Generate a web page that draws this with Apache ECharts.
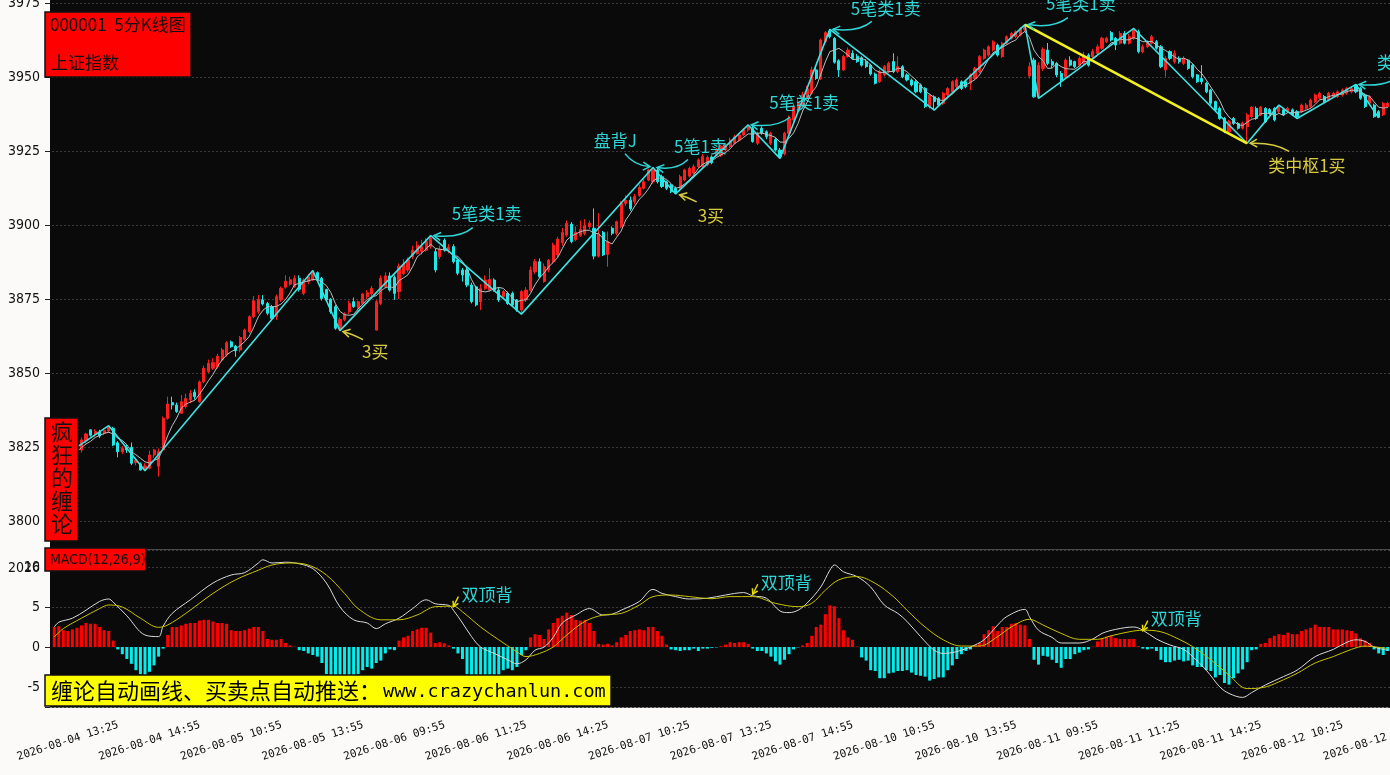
<!DOCTYPE html>
<html>
<head>
<meta charset="utf-8">
<script src="https://cdn.jsdelivr.net/npm/echarts@6.0.0/dist/echarts.min.js"></script>
<style>
html,body{margin:0;padding:0;background:#fcf9f9;overflow:hidden;}
#c{width:1390px;height:775px;}
</style>
</head>
<body>
<div id="c"></div>
<script>
// ---------------- DATA ----------------
const tradeDays = ['2026-08-04','2026-08-05','2026-08-06','2026-08-07','2026-08-10','2026-08-11','2026-08-12'];
const sessionTimes = ['09:35','09:40','09:45','09:50','09:55','10:00','10:05','10:10','10:15','10:20','10:25','10:30',
  '10:35','10:40','10:45','10:50','10:55','11:00','11:05','11:10','11:15','11:20','11:25','11:30',
  '13:05','13:10','13:15','13:20','13:25','13:30','13:35','13:40','13:45','13:50','13:55','14:00',
  '14:05','14:10','14:15','14:20','14:25','14:30','14:35','14:40','14:45','14:50','14:55','15:00'];
const firstSlot = 25;   // 2026-08-04 13:10
const barCount = 295;   // last bar 2026-08-12 13:40

// [open, close, low, high]
const kline = [
[3820.0,3821.0,3819.5,3822.0],[3821.0,3821.2,3820.8,3822.6],[3821.2,3823.0,3820.9,3823.6],[3823.0,3824.6,3822.5,3825.3],[3824.6,3823.8,3823.2,3825.6],
[3823.8,3825.0,3823.3,3826.0],[3824.0,3827.4,3823.1,3828.2],[3827.1,3829.4,3826.2,3829.8],[3830.8,3829.0,3828.5,3831.0],[3829.2,3830.2,3828.5,3831.0],
[3830.0,3828.7,3828.0,3830.8],[3829.6,3830.6,3829.0,3831.3],[3830.4,3831.6,3829.8,3832.2],[3831.3,3825.7,3825.3,3831.8],[3826.4,3823.4,3821.5,3827.0],
[3823.4,3824.5,3822.6,3825.3],[3824.8,3824.0,3823.0,3825.8],[3824.9,3819.5,3818.9,3826.5],[3819.7,3820.6,3818.8,3821.3],[3819.2,3817.2,3817.1,3819.8],
[3817.5,3818.6,3817.0,3819.5],[3817.8,3822.3,3817.4,3823.8],[3822.3,3824.0,3821.3,3824.3],[3818.5,3823.5,3815.0,3824.5],[3824.0,3834.7,3823.5,3835.3],
[3834.7,3839.5,3834.2,3842.0],[3840.0,3839.2,3837.7,3842.0],[3839.2,3837.0,3836.5,3840.0],[3836.4,3840.3,3836.2,3842.6],[3838.6,3841.4,3838.0,3843.0],
[3840.9,3843.1,3839.8,3844.2],[3843.5,3842.0,3841.0,3844.5],[3840.3,3847.0,3840.0,3847.5],[3847.0,3851.6,3846.5,3852.5],[3850.5,3853.3,3850.0,3854.5],
[3851.6,3853.5,3851.0,3855.0],[3852.1,3855.7,3851.5,3856.5],[3854.4,3857.8,3854.0,3858.5],[3856.1,3860.2,3855.5,3860.8],[3860.5,3858.9,3858.5,3861.0],
[3859.1,3857.5,3855.5,3859.5],[3857.8,3862.0,3857.0,3862.5],[3861.4,3864.5,3861.0,3865.0],[3864.0,3869.0,3863.5,3869.5],[3869.0,3874.4,3868.5,3876.0],
[3870.7,3874.9,3870.0,3876.3],[3874.7,3873.3,3872.8,3876.3],[3873.5,3870.2,3869.5,3874.0],[3872.4,3868.5,3868.0,3873.0],[3869.0,3875.8,3867.9,3876.5],
[3874.7,3878.6,3874.0,3879.2],[3879.0,3881.0,3878.5,3883.0],[3880.0,3881.5,3879.5,3882.5],[3879.2,3882.0,3878.8,3883.0],[3882.0,3878.3,3877.5,3883.0],
[3876.9,3881.4,3876.3,3882.0],[3880.9,3882.5,3880.0,3883.5],[3881.6,3883.7,3881.0,3884.6],[3883.9,3881.4,3881.0,3884.3],[3882.0,3875.2,3874.5,3882.5],
[3878.2,3874.7,3874.0,3878.5],[3874.9,3870.7,3870.0,3875.3],[3872.4,3865.1,3864.6,3873.0],[3864.8,3868.1,3864.3,3868.8],[3868.1,3869.9,3867.5,3870.5],
[3870.7,3873.5,3870.0,3874.5],[3874.1,3872.4,3872.0,3875.5],[3871.8,3874.1,3871.0,3874.5],[3873.5,3876.7,3873.0,3877.0],[3875.8,3877.1,3875.0,3878.0],
[3876.7,3878.6,3876.0,3879.4],[3864.5,3874.1,3864.3,3874.6],[3873.5,3882.0,3873.0,3883.0],[3879.2,3882.8,3878.5,3884.0],[3882.8,3878.0,3877.5,3884.0],
[3882.3,3876.9,3874.7,3883.0],[3877.5,3886.1,3875.0,3887.0],[3883.6,3886.8,3883.0,3888.5],[3884.8,3888.2,3884.0,3889.0],[3889.3,3891.5,3888.5,3893.0],
[3890.4,3893.2,3890.0,3894.5],[3891.0,3892.7,3890.0,3895.0],[3891.5,3894.4,3891.0,3895.5],[3892.7,3895.5,3892.0,3896.4],[3891.0,3884.8,3884.0,3892.0],
[3889.3,3891.8,3888.5,3893.0],[3894.9,3891.6,3891.0,3895.5],[3891.6,3892.5,3890.5,3893.5],[3892.7,3887.6,3887.0,3893.5],[3888.2,3883.7,3883.0,3889.0],
[3884.8,3883.1,3880.9,3885.5],[3884.8,3879.7,3879.0,3886.0],[3879.7,3874.1,3873.5,3880.5],[3879.1,3873.0,3872.5,3879.5],[3874.1,3878.6,3871.3,3880.0],
[3878.6,3881.4,3878.0,3883.0],[3878.0,3881.6,3877.5,3885.4],[3881.4,3878.0,3877.5,3882.0],[3878.0,3874.7,3874.0,3879.0],[3875.8,3877.5,3875.0,3878.0],
[3877.0,3873.5,3873.0,3877.5],[3876.9,3873.0,3872.5,3877.5],[3874.7,3871.3,3870.7,3875.0],[3871.3,3877.5,3869.9,3878.0],[3874.7,3878.0,3874.0,3879.0],
[3878.0,3884.8,3877.5,3886.0],[3884.2,3887.6,3883.5,3888.5],[3887.6,3882.5,3882.0,3888.7],[3880.9,3885.9,3880.5,3887.0],[3884.8,3888.0,3884.0,3888.5],
[3887.6,3893.2,3887.0,3894.0],[3889.9,3895.2,3889.0,3896.0],[3894.0,3897.5,3893.0,3899.0],[3896.6,3900.6,3896.0,3901.5],[3900.3,3894.4,3893.8,3901.0],
[3895.0,3897.5,3894.5,3899.5],[3896.5,3898.5,3896.0,3901.5],[3897.2,3899.8,3896.5,3902.0],[3899.4,3900.6,3898.5,3901.5],[3898.9,3889.5,3888.4,3905.6],
[3889.5,3897.0,3889.0,3904.0],[3897.5,3889.9,3889.5,3898.0],[3890.0,3894.4,3885.9,3897.8],[3898.9,3897.2,3896.5,3899.5],[3897.2,3901.1,3896.5,3901.5],
[3899.4,3907.3,3899.0,3908.0],[3907.3,3908.4,3906.5,3910.0],[3908.4,3905.5,3904.8,3909.6],[3907.9,3909.6,3907.0,3910.5],[3910.0,3912.7,3909.5,3913.5],
[3912.4,3914.6,3912.0,3915.5],[3915.2,3918.6,3914.8,3919.0],[3914.6,3918.6,3914.0,3919.4],[3918.6,3914.6,3914.0,3919.2],[3916.3,3913.0,3912.5,3917.0],
[3914.6,3912.4,3911.8,3915.0],[3913.5,3911.2,3910.8,3914.0],[3912.4,3911.0,3910.5,3913.0],[3912.4,3916.3,3912.0,3917.0],[3915.2,3918.6,3914.8,3919.0],
[3916.5,3919.1,3916.0,3919.7],[3917.5,3919.7,3917.0,3920.5],[3919.7,3922.0,3919.2,3922.5],[3919.7,3923.1,3919.3,3924.0],[3920.3,3922.8,3919.8,3923.5],
[3923.0,3921.0,3920.5,3923.5],[3923.6,3925.3,3923.2,3926.0],[3923.6,3926.5,3923.0,3927.0],[3925.3,3927.0,3925.0,3927.7],[3926.5,3928.7,3926.0,3929.5],
[3927.6,3929.8,3927.2,3930.5],[3928.7,3930.4,3928.2,3931.0],[3930.4,3932.1,3930.0,3932.8],[3932.1,3933.2,3931.5,3933.8],[3932.7,3928.2,3927.8,3933.5],
[3927.6,3931.0,3927.0,3931.5],[3932.7,3931.0,3930.5,3933.3],[3931.5,3929.8,3929.0,3932.0],[3927.6,3931.0,3927.0,3931.5],[3928.9,3925.3,3924.8,3929.5],
[3925.3,3923.1,3922.5,3926.0],[3924.0,3931.0,3923.5,3931.5],[3931.0,3936.0,3930.5,3937.0],[3935.5,3940.0,3935.0,3941.0],[3938.5,3941.5,3938.0,3942.5],
[3940.0,3944.0,3939.5,3945.0],[3943.0,3946.0,3942.5,3947.0],[3944.5,3952.4,3944.0,3953.5],[3952.4,3949.5,3949.0,3953.5],[3949.5,3962.5,3949.0,3963.0],
[3962.0,3965.0,3961.5,3965.5],[3965.5,3963.6,3963.0,3966.1],[3963.0,3955.0,3954.5,3963.5],[3955.5,3952.4,3950.0,3956.0],[3952.4,3956.9,3952.0,3957.5],
[3956.9,3959.1,3956.5,3960.0],[3958.0,3956.3,3955.8,3959.0],[3957.0,3955.2,3954.8,3957.8],[3956.5,3954.0,3953.5,3957.0],[3955.2,3953.5,3953.0,3956.0],
[3954.0,3951.0,3950.5,3954.5],[3951.0,3947.9,3947.5,3951.5],[3948.4,3951.8,3948.0,3952.5],[3950.7,3953.5,3950.2,3954.0],[3951.8,3954.6,3951.3,3955.2],
[3955.2,3951.8,3951.3,3958.0],[3951.8,3953.5,3951.3,3957.0],[3953.5,3950.1,3949.6,3954.0],[3950.7,3949.0,3948.5,3951.2],[3949.0,3947.3,3946.8,3949.5],
[3948.4,3945.0,3944.5,3948.9],[3947.3,3945.0,3944.5,3947.8],[3946.1,3940.0,3939.5,3946.6],[3940.0,3943.9,3939.3,3944.4],[3943.3,3941.7,3938.8,3943.8],
[3942.7,3940.5,3940.0,3943.2],[3941.1,3944.5,3940.6,3945.0],[3943.9,3946.1,3943.4,3946.6],[3945.0,3948.4,3944.5,3948.9],[3946.7,3949.0,3946.2,3949.6],
[3948.4,3946.1,3945.6,3948.9],[3948.4,3946.7,3946.2,3948.9],[3947.9,3950.7,3945.6,3951.2],[3949.5,3952.9,3949.0,3953.4],[3951.8,3956.9,3951.3,3957.4],
[3956.3,3959.1,3955.8,3959.6],[3957.4,3960.2,3956.9,3960.7],[3959.1,3961.9,3958.6,3962.4],[3960.8,3957.4,3956.9,3961.3],[3956.9,3961.4,3956.4,3961.9],
[3961.4,3963.6,3960.9,3964.1],[3963.1,3964.7,3962.6,3965.2],[3963.6,3965.3,3963.1,3965.8],[3964.2,3966.4,3963.7,3966.9],[3966.0,3967.2,3965.5,3967.7],
[3950.3,3953.5,3949.5,3955.0],[3955.7,3943.3,3943.0,3956.5],[3943.3,3954.0,3942.8,3955.0],[3952.9,3959.3,3952.0,3960.0],[3959.1,3954.6,3954.0,3961.5],
[3955.2,3954.0,3953.0,3956.0],[3954.6,3950.7,3950.0,3955.0],[3951.2,3949.0,3946.7,3952.0],[3950.1,3955.7,3949.5,3956.3],[3955.7,3954.0,3953.5,3957.0],
[3955.2,3953.5,3953.0,3955.5],[3954.0,3956.3,3953.5,3957.0],[3954.6,3957.4,3954.0,3958.5],[3957.4,3954.0,3953.5,3958.0],[3956.9,3958.6,3956.5,3959.5],
[3958.0,3960.2,3957.5,3961.0],[3959.7,3963.1,3959.2,3963.6],[3962.0,3963.1,3961.5,3963.6],[3965.0,3962.5,3962.0,3965.5],[3963.1,3960.8,3959.1,3963.5],
[3961.4,3964.7,3961.0,3965.5],[3964.7,3961.4,3961.0,3965.5],[3961.4,3963.6,3961.0,3964.5],[3963.1,3965.9,3962.5,3966.4],[3965.3,3958.6,3958.0,3966.0],
[3958.6,3960.2,3958.0,3961.0],[3960.2,3961.9,3959.7,3962.5],[3961.4,3963.6,3961.0,3964.2],[3961.9,3959.7,3959.2,3962.5],[3960.2,3953.5,3953.0,3960.8],
[3952.4,3956.3,3950.1,3957.0],[3958.6,3956.3,3955.7,3959.0],[3955.2,3958.0,3954.5,3959.0],[3956.3,3955.2,3954.5,3957.0],[3954.6,3956.3,3954.0,3957.0],
[3955.7,3952.9,3952.4,3956.0],[3954.0,3950.1,3949.5,3954.5],[3950.7,3948.4,3948.0,3951.0],[3949.5,3948.4,3947.5,3954.0],[3947.9,3945.0,3944.5,3948.4],
[3945.6,3941.1,3940.5,3946.0],[3941.7,3938.8,3938.3,3942.0],[3939.4,3936.0,3935.5,3940.0],[3936.0,3931.5,3931.0,3936.5],[3931.5,3934.9,3930.5,3935.5],
[3936.0,3934.3,3933.8,3936.5],[3934.3,3932.7,3932.2,3934.8],[3932.7,3934.5,3932.2,3935.0],[3933.2,3937.2,3927.6,3937.8],[3936.6,3939.8,3936.0,3940.2],
[3939.4,3936.0,3935.5,3940.0],[3937.2,3939.8,3936.8,3940.2],[3939.4,3934.9,3934.5,3939.8],[3939.0,3937.7,3937.2,3939.5],[3939.4,3935.5,3935.0,3939.8],
[3938.3,3940.0,3937.8,3940.5],[3938.9,3937.2,3936.8,3939.4],[3938.3,3939.4,3937.8,3939.9],[3938.9,3937.2,3936.8,3939.4],[3938.3,3936.6,3936.0,3938.8],
[3938.3,3940.5,3937.8,3941.0],[3939.4,3940.5,3939.0,3941.2],[3940.0,3942.2,3939.5,3942.7],[3941.7,3943.9,3941.2,3944.4],[3942.8,3944.5,3942.3,3945.0],
[3943.4,3941.7,3941.2,3943.9],[3942.2,3944.5,3941.7,3945.0],[3943.4,3944.5,3942.9,3945.0],[3943.4,3945.0,3942.9,3945.5],[3943.9,3945.6,3943.4,3946.1],
[3944.5,3946.1,3944.0,3946.6],[3945.0,3946.1,3944.5,3946.8],[3947.3,3945.0,3944.5,3947.5],[3946.1,3942.8,3942.3,3946.6],[3943.9,3940.0,3939.5,3944.4],
[3941.1,3943.4,3940.6,3943.9],[3940.5,3936.6,3936.2,3941.0],[3938.3,3936.4,3936.2,3938.8],[3937.2,3941.1,3936.8,3941.6],[3940.0,3941.1,3939.5,3941.6]
];

const ma5 = [null,null,null,null,
3822.7,3823.5,3824.8,3826.0,3826.9,3828.2,3828.9,3829.6,3830.0,3829.4,
3828.0,3827.2,3825.8,3823.4,3822.4,3821.2,3820.0,3819.6,3820.5,3821.1,
3824.6,3828.8,3832.2,3834.8,3838.1,3839.5,3840.2,3840.8,3842.8,3845.0,
3847.4,3849.5,3852.2,3854.4,3856.1,3857.2,3858.0,3859.3,3860.6,3862.4,
3865.5,3869.0,3871.2,3872.4,3872.3,3872.5,3873.3,3874.8,3877.1,3879.8,
3880.3,3880.8,3881.1,3881.6,3881.5,3880.8,3879.5,3877.1,3873.4,3870.8,
3869.7,3869.5,3869.8,3871.6,3873.3,3874.8,3875.8,3876.1,3877.7,3878.9,
3879.1,3878.8,3881.2,3882.1,3883.2,3885.9,3889.2,3890.5,3892.0,3893.5,
3892.1,3891.8,3891.6,3891.2,3889.7,3889.4,3887.7,3885.3,3881.6,3878.7,
3877.7,3877.4,3877.7,3878.5,3878.9,3878.6,3877.1,3875.3,3874.0,3874.6,
3874.7,3876.9,3879.8,3882.1,3883.8,3885.8,3887.4,3889.0,3892.0,3894.9,
3896.2,3897.0,3897.7,3898.2,3898.2,3897.2,3897.1,3895.4,3894.3,3893.6,
3895.9,3898.0,3901.7,3903.9,3906.4,3908.7,3910.2,3912.2,3914.8,3915.8,
3915.9,3915.4,3914.0,3912.4,3912.8,3913.9,3915.2,3916.9,3919.1,3920.5,
3921.3,3921.7,3922.8,3923.7,3924.5,3925.7,3927.5,3928.5,3929.6,3930.8,
3930.7,3931.0,3931.1,3930.6,3930.2,3929.6,3928.0,3928.0,3929.3,3931.1,
3934.3,3938.5,3941.5,3944.8,3946.7,3950.9,3955.1,3958.6,3959.1,3959.7,
3958.6,3957.4,3955.9,3956.0,3956.3,3955.6,3954.0,3952.3,3951.6,3951.5,
3951.8,3951.9,3953.0,3952.7,3951.8,3950.3,3949.0,3947.3,3945.3,3944.2,
3943.1,3942.2,3942.1,3943.3,3944.2,3945.7,3946.8,3947.3,3948.2,3949.1,
3950.7,3953.3,3956.0,3958.2,3959.1,3960.0,3960.9,3961.8,3962.5,3964.3,
3965.4,3963.4,3959.1,3956.9,3955.5,3952.9,3953.0,3954.5,3953.5,3952.8,
3952.7,3952.6,3953.7,3955.4,3955.0,3956.0,3957.3,3958.7,3959.8,3961.5,
3961.9,3962.8,3962.5,3962.6,3963.3,3962.8,3961.9,3962.0,3962.0,3960.8,
3959.8,3959.0,3957.9,3956.8,3955.9,3956.4,3955.7,3954.5,3952.6,3951.2,
3949.0,3946.6,3944.3,3941.9,3938.5,3936.5,3935.1,3933.9,3933.6,3934.7,
3935.7,3936.1,3937.6,3937.7,3937.8,3936.9,3937.7,3937.1,3938.0,3937.9,
3938.1,3938.2,3938.8,3939.4,3940.7,3942.3,3942.6,3943.4,3943.8,3944.0,
3944.3,3945.1,3945.5,3945.6,3945.1,3944.0,3943.5,3941.6,3939.8,3939.5,
3939.7];

// stroke (bi) vertices: [bar index, price]
const biPoints = [[1,3820.8],[12,3832.2],[20,3817.0],[57,3884.6],[63,3864.3],[83,3896.4],[103,3869.9],[132,3919.4],[137,3910.5],
  [153,3933.8],[160,3922.5],[171,3966.1],[194,3938.8],[214,3967.7],[217,3942.8],[238,3966.4],[263,3927.6],[270,3940.5],[274,3936.0],
  [287,3947.5],[292,3936.2]];
// segment (yellow)
const segPoints = [[214,3967.7],[263,3927.6]];

// MACD histogram per bar
const macdHist = [
2.5,2.6,2.1,2.0,2.2,2.4,2.7,3.0,2.9,2.9,2.5,2.1,2.0,0.8,
-0.3,-0.9,-1.5,-2.1,-2.9,-3.4,-3.5,-3.1,-2.3,-1.2,-0.2,
1.5,2.5,2.5,2.7,2.9,3.0,3.0,3.3,3.4,3.4,3.2,3.0,3.0,2.9,2.1,2.0,2.0,2.1,2.3,2.5,2.5,2.0,1.0,0.9,0.9,1.0,0.5,0.2,0.05,
-0.4,-0.5,-0.8,-1.0,-1.2,-2.0,-3.4,-3.6,-3.8,-3.9,-3.9,-3.8,-3.6,-3.4,-2.9,-2.5,-2.7,-2.0,-1.7,-0.8,-0.3,-0.4,
0.8,1.2,1.4,2.0,2.2,2.4,2.4,1.8,0.5,0.6,0.46,0.2,
-0.2,-0.8,-1.5,-3.4,-3.6,-3.8,-3.9,-3.9,-3.8,-3.7,-3.5,-2.9,-2.7,-2.9,-2.5,-1.0,-0.4,
1.2,1.6,1.5,1.0,2.2,3.0,3.6,3.9,4.3,4.0,3.4,3.3,3.4,3.0,2.0,0.4,0.3,0.4,0.2,0.6,1.2,1.5,2.0,2.1,2.2,2.1,2.5,2.5,2.0,1.4,0.3,
-0.3,-0.4,-0.5,-0.4,-0.4,-0.2,-0.5,-0.2,-0.2,-0.1,-0.05,
0.1,0.3,0.6,0.5,0.6,0.6,0.4,
-0.2,-0.5,-0.5,-0.8,-1.2,-1.8,-2.2,-1.6,-0.9,-0.3,-0.05,
0.2,0.5,1.4,2.5,2.8,4.1,5.2,5.1,3.6,2.1,1.2,0.9,0.05,
-1.3,-1.7,-2.9,-3.0,-3.9,-3.9,-3.3,-3.2,-3.0,-3.0,-2.9,-3.2,-3.5,-3.6,-3.7,-4.2,-4.0,-3.8,-3.8,-2.9,-2.3,-1.5,-0.9,-0.5,-0.3,
0.2,0.5,1.6,2.1,2.6,2.0,2.5,2.5,2.9,3.0,2.8,2.7,1.0,
-1.6,-2.2,-1.1,-1.2,-1.6,-2.0,-2.6,-1.5,-1.5,-0.9,-0.7,-0.4,-0.3,
0.05,0.7,1.1,1.3,1.4,1.1,1.0,1.0,1.0,1.0,0.1,
-0.2,-0.3,-0.2,-0.5,-1.6,-1.9,-1.9,-1.7,-1.6,-1.8,-1.7,-2.3,-2.5,-2.5,-2.9,-3.0,-3.8,-3.5,-4.5,-4.7,-3.9,-3.3,-2.8,-1.9,-0.4,-0.3,
0.4,0.5,1.1,1.4,1.6,1.5,1.8,1.6,1.6,2.0,2.2,2.4,2.8,2.5,2.5,2.5,2.2,2.2,2.2,2.1,2.0,1.7,1.1,0.8,0.5,
-0.3,-0.8,-1.0,-0.5];

// DIF / DEA read at points along the curves: [bar index, value]
const difPoints = [[0,2.5],[1,3.1],[4,3.6],[7,4.6],[10,5.7],[12,6.0],[13,5.6],[16,3.9],[20,1.5],[23,1.3],[24,2.6],[26,4.2],[30,5.9],
 [35,8.0],[39,9.0],[42,9.3],[45,10.5],[46,10.9],[48,10.5],[51,10.6],[54,10.4],[57,9.8],[60,8.0],[63,5.0],[66,3.4],[69,3.0],[71,2.3],
 [73,2.9],[76,3.6],[79,4.8],[82,5.9],[84,5.4],[87,5.2],[88,4.6],[90,3.0],[92,1.3],[94,0.0],[97,-0.8],[100,-1.6],[102,-2.1],[104,-1.6],
 [106,-0.4],[108,0.0],[110,1.2],[112,3.0],[115,4.0],[118,4.8],[121,4.0],[123,4.1],[125,4.6],[129,5.7],[132,7.2],[134,6.7],[137,6.3],
 [140,6.0],[144,6.1],[148,6.5],[152,6.8],[154,6.4],[157,6.1],[160,4.5],[162,4.3],[164,4.6],[166,5.5],[169,7.5],[171,9.6],[172,10.25],
 [174,9.4],[177,8.8],[180,7.5],[183,5.25],[186,4.2],[188,3.2],[191,1.3],[194,-0.4],[196,-0.8],[198,-0.7],[200,-0.4],[202,0.0],[205,0.9],
 [208,2.75],[210,3.8],[214,4.7],[215,3.8],[217,2.1],[220,1.2],[222,0.5],[226,0.5],[229,1.0],[231,1.7],[234,2.2],[238,2.5],[240,2.1],
 [243,1.0],[246,0.25],[249,-0.3],[251,-1.2],[254,-2.9],[257,-5.0],[259,-5.8],[262,-6.3],[264,-5.7],[267,-4.75],[271,-3.7],[274,-2.9],
 [278,-1.2],[282,-0.3],[285,0.6],[287,0.9],[289,0.7],[291,0.0],[294,-0.4]];
const deaPoints = [[0,1.25],[2,2.3],[6,3.6],[10,4.8],[12,5.25],[15,5.0],[19,3.6],[23,2.46],[25,2.75],[29,4.2],[35,6.7],[40,8.4],
 [45,9.6],[48,10.25],[52,10.5],[56,10.25],[60,9.0],[64,6.7],[67,4.8],[72,3.4],[76,3.4],[80,4.0],[84,5.04],[88,5.1],[90,4.4],[94,2.5],
 [98,0.9],[102,-0.6],[104,-1.2],[107,-0.8],[110,0.0],[113,1.5],[117,3.2],[121,4.0],[125,4.2],[129,5.25],[132,6.3],[136,6.5],[140,6.3],
 [145,6.04],[149,6.3],[154,6.3],[159,5.46],[164,5.04],[167,5.46],[170,7.1],[173,8.4],[177,8.8],[181,7.96],[185,6.3],[188,4.6],[192,2.5],
 [196,0.9],[200,0.12],[204,0.12],[208,1.3],[211,2.5],[215,3.46],[218,2.75],[222,1.7],[226,0.96],[230,0.96],[233,1.4],[237,1.9],
 [240,2.1],[244,1.9],[248,0.96],[251,0.04],[255,-1.6],[259,-3.5],[263,-5.2],[267,-5.0],[271,-4.1],[274,-3.3],[278,-2.0],[282,-1.2],
 [286,-0.3],[289,0.12],[292,-0.04],[294,-0.2]];

// buy/sell signals on the K chart
const signalIdx   = [83, 63, 132, 132, 137, 153, 171, 214, 263, 287];
const signalPrice = [3896.4, 3864.3, 3919.4, 3919.4, 3910.5, 3933.8, 3966.1, 3967.7, 3927.6, 3947.5];
const signalText  = ['5笔类1卖','3买','盘背J','5笔1卖','3买','5笔类1卖','5笔类1卖','5笔类1卖','类中枢1买','类1卖'];
// divergence signals on MACD
const macdSigIdx  = [88, 154, 240];
const macdSigVal  = [5.04, 6.6, 2.04];
const macdSigText = ['双顶背','双顶背','双顶背'];

// tick labels
const priceTicks = [3800,3825,3850,3875,3900,3925,3950,3975];
const macdTicks = [-5,0,5,10];

// ---------------- BUILD ----------------
const allSlots = [];
tradeDays.forEach(d => sessionTimes.forEach(t => allSlots.push(d + ' ' + t)));
const categories = allSlots.slice(firstSlot, firstSlot + barCount);
const labelEvery = (idx) => idx >= 3 && (idx - 3) % 18 === 0;

const RED = '#ff1e1e', CYAN = '#1ee8e8';
const C_TEXT = '#2fd6d6', C_BI = '#3fe2e2', C_YTEXT = '#d6cb3e';
const numFont = "'Liberation Sans Narrow','DejaVu Sans Condensed',sans-serif";

const chart = echarts.init(document.getElementById('c'), null, {renderer: 'canvas'});

const option = {
  animation: false,
  backgroundColor: '#0a0a0a',
  grid: [
    {left: 52, right: 0, top: 3, height: 546, containLabel: false, outerBoundsMode: 'none'},
    {left: 52, right: 0, top: 550, height: 157, containLabel: false, outerBoundsMode: 'none'}
  ],
  xAxis: [
    {type: 'category', gridIndex: 0, data: categories, boundaryGap: true,
     axisLine: {lineStyle: {color: '#4a4a4a'}},
     axisTick: {interval: labelEvery, alignWithLabel: true, length: 4, lineStyle: {color: '#4a4a4a'}},
     axisLabel: {show: false}, splitLine: {show: false}},
    {type: 'category', gridIndex: 1, data: categories, boundaryGap: true,
     axisLine: {lineStyle: {color: '#111'}},
     axisTick: {interval: labelEvery, alignWithLabel: true, length: 5, lineStyle: {color: '#111'}},
     axisLabel: {interval: labelEvery, rotate: 18, align: 'center', verticalAlign: 'middle', margin: 34,
       fontFamily: "'DejaVu Sans Mono',monospace", fontSize: 11, color: '#111', hideOverlap: false},
     splitLine: {show: false}}
  ],
  yAxis: [
    {type: 'value', gridIndex: 0, min: 3790.54, max: 3975, minInterval: 25, maxInterval: 25, offset: 2,
     axisLine: {show: false},
     axisTick: {show: true, length: 5, lineStyle: {color: '#222'}},
     axisLabel: {margin: 10, color: '#111', fontFamily: numFont, fontSize: 14,
       formatter: v => priceTicks.indexOf(Math.round(v * 100) / 100) >= 0 ? String(v) : ''},
     splitLine: {show: true, lineStyle: {color: '#3a3a3a', type: [2, 2]}}},
    {type: 'value', gridIndex: 1, min: -7.5, max: 12.125, minInterval: 5, maxInterval: 5, offset: 2,
     axisLine: {show: false},
     axisTick: {show: true, length: 5, lineStyle: {color: '#222'}},
     axisLabel: {margin: 10, color: '#111', fontFamily: numFont, fontSize: 14,
       formatter: v => macdTicks.indexOf(Math.round(v * 100) / 100) >= 0 ? String(v) : ''},
     splitLine: {show: true, lineStyle: {color: '#3a3a3a', type: [2, 2]}}}
  ],
  series: [
    {type: 'candlestick', xAxisIndex: 0, yAxisIndex: 0, data: kline, barWidth: 2.6,
     itemStyle: {color: RED, color0: CYAN, borderColor: RED, borderColor0: CYAN, borderWidth: 1}, z: 2},
    {type: 'line', xAxisIndex: 0, yAxisIndex: 0, data: ma5, showSymbol: false, symbol: 'none',
     lineStyle: {color: '#bdbdbd', width: 1}, z: 3},
    {type: 'line', xAxisIndex: 0, yAxisIndex: 0, data: biPoints, showSymbol: false, symbol: 'none',
     lineStyle: {color: C_BI, width: 1.6}, z: 5},
    {type: 'line', xAxisIndex: 0, yAxisIndex: 0, data: segPoints, showSymbol: false, symbol: 'none',
     lineStyle: {color: '#f4f020', width: 2.6}, z: 6},
    {type: 'bar', xAxisIndex: 1, yAxisIndex: 1, data: macdHist, barWidth: 3,
     itemStyle: {color: p => p.value >= 0 ? '#ff0000' : '#00eeee'}, z: 2},
    {type: 'line', xAxisIndex: 1, yAxisIndex: 1, data: difPoints, showSymbol: false, symbol: 'none', smooth: 0.35,
     lineStyle: {color: '#d9d9d9', width: 1}, z: 4},
    {type: 'line', xAxisIndex: 1, yAxisIndex: 1, data: deaPoints, showSymbol: false, symbol: 'none', smooth: 0.35,
     lineStyle: {color: '#c8c200', width: 1}, z: 4}
  ]
};
chart.setOption(option);

// ---------------- ANNOTATIONS (positioned through the axes) ----------------
const sigLayout = [
  {tx: 21, ty: -22, ta: 'left',  s: [42, -8], c: [29, 3],  e: [3, 0],  k: 'c'},
  {tx: 22, ty: 21,  ta: 'left',  s: [23, 9],  c: [12, 3],  e: [3, 1],  k: 'y'},
  {tx: -16, ty: -27, ta: 'right', s: [-28, -14], c: [-19, -2], e: [-3, -1], k: 'c'},
  {tx: 21, ty: -21, ta: 'left',  s: [35, -8], c: [24, 3],  e: [4, 0],  k: 'c'},
  {tx: 22, ty: 22,  ta: 'left',  s: [21, 8],  c: [12, 3],  e: [4, 1],  k: 'y'},
  {tx: 21, ty: -22, ta: 'left',  s: [42, -8], c: [29, 3],  e: [3, 0],  k: 'c'},
  {tx: 21, ty: -21, ta: 'left',  s: [42, -8], c: [29, 3],  e: [3, 0],  k: 'c'},
  {tx: 21, ty: -21, ta: 'left',  s: [43, -7], c: [29, 4],  e: [3, 0],  k: 'c'},
  {tx: 21, ty: 22,  ta: 'left',  s: [42, 8],  c: [27, -1], e: [3, 0],  k: 'y'},
  {tx: 21, ty: -22, ta: 'left',  s: [42, -8], c: [29, 3],  e: [3, 0],  k: 'c'}
];
const annFont = '17px "Noto Sans CJK SC"';
const els = [];
function chevron(ex, ey, cx, cy, color, len) {
  const dx = ex - cx, dy = ey - cy, L = Math.hypot(dx, dy) || 1;
  const ux = dx / L, uy = dy / L, a = Math.PI / 6;
  const p1 = [ex - len * (ux * Math.cos(a) - uy * Math.sin(a)), ey - len * (uy * Math.cos(a) + ux * Math.sin(a))];
  const p2 = [ex - len * (ux * Math.cos(-a) - uy * Math.sin(-a)), ey - len * (uy * Math.cos(-a) + ux * Math.sin(-a))];
  return {type: 'polyline', silent: true, z: 60, shape: {points: [p1, [ex, ey], p2]},
          style: {stroke: color, lineWidth: 1.5, fill: null}};
}
signalIdx.forEach((idx, n) => {
  const p = chart.convertToPixel({gridIndex: 0}, [idx, signalPrice[n]]);
  const lay = sigLayout[n];
  const col = lay.k === 'c' ? C_TEXT : C_YTEXT;
  const sx = p[0] + lay.s[0], sy = p[1] + lay.s[1];
  const cx = p[0] + lay.c[0], cy = p[1] + lay.c[1];
  const ex = p[0] + lay.e[0], ey = p[1] + lay.e[1];
  els.push({type: 'bezierCurve', silent: true, z: 60,
    shape: {x1: sx, y1: sy, cpx1: cx, cpy1: cy, x2: ex, y2: ey},
    style: {stroke: col, lineWidth: 1.5, fill: null}});
  els.push(chevron(ex, ey, cx, cy, col, 8));
  els.push({type: 'text', silent: true, z: 60, x: p[0] + lay.tx, y: p[1] + lay.ty,
    style: {text: signalText[n], fill: col, font: annFont, textAlign: lay.ta, textVerticalAlign: 'middle'}});
});
macdSigIdx.forEach((idx, n) => {
  const p = chart.convertToPixel({gridIndex: 1}, [idx, macdSigVal[n]]);
  const sx = p[0] + 5, sy = p[1] - 10;
  els.push({type: 'line', silent: true, z: 60, shape: {x1: sx, y1: sy, x2: p[0], y2: p[1]},
    style: {stroke: '#e6dc00', lineWidth: 1.4}});
  els.push(chevron(p[0], p[1], sx, sy, '#e6dc00', 6));
  els.push({type: 'text', silent: true, z: 60, x: p[0] + 8, y: p[1] - 12,
    style: {text: macdSigText[n], fill: C_TEXT, font: annFont, textAlign: 'left', textVerticalAlign: 'middle'}});
});

// page margins (light) and label boxes
const boxes = [
  {type: 'rect', silent: true, z: -10, shape: {x: 0, y: 0, width: 50, height: 775}, style: {fill: '#fcf9f9'}},
  {type: 'rect', silent: true, z: -10, shape: {x: 0, y: 707.5, width: 1390, height: 70}, style: {fill: '#fcf9f9'}},
  {type: 'rect', silent: true, z: 100, shape: {x: 45, y: 12, width: 146, height: 65}, style: {fill: '#ff0000', stroke: '#111', lineWidth: 1.5}},
  {type: 'text', silent: true, z: 101, x: 50, y: 25, style: {text: '000001  5分K线图', fill: '#111', font: '17px "Noto Sans CJK SC"', textAlign: 'left', textVerticalAlign: 'middle'}},
  {type: 'text', silent: true, z: 101, x: 51, y: 63, style: {text: '上证指数', fill: '#111', font: '17px "Noto Sans CJK SC"', textAlign: 'left', textVerticalAlign: 'middle'}},
  {type: 'rect', silent: true, z: 100, shape: {x: 45, y: 418, width: 33, height: 123}, style: {fill: '#ff0000', stroke: '#111', lineWidth: 1.5}},
  {type: 'rect', silent: true, z: 100, shape: {x: 45, y: 548, width: 101, height: 23}, style: {fill: '#ff0000', stroke: '#111', lineWidth: 1.5}},
  {type: 'text', silent: true, z: 101, x: 50, y: 560, style: {text: 'MACD(12,26,9)', fill: '#111', font: "14px " + numFont, textAlign: 'left', textVerticalAlign: 'middle'}},
  {type: 'rect', silent: true, z: 100, shape: {x: 45, y: 675, width: 566, height: 31}, style: {fill: '#ffff00', stroke: '#111', lineWidth: 1.5}},
  {type: 'text', silent: true, z: 101, x: 51, y: 691, style: {text: '缠论自动画线、买卖点自动推送：', fill: '#000', font: '22px "Noto Sans CJK SC"', textAlign: 'left', textVerticalAlign: 'middle'}},
  {type: 'text', silent: true, z: 101, x: 383, y: 692, style: {text: 'www.crazychanlun.com', fill: '#000', font: '18.5px "DejaVu Sans Mono"', textAlign: 'left', textVerticalAlign: 'middle'}},
  {type: 'text', silent: true, z: 1, x: 40, y: 568, style: {text: '2026', fill: '#111', font: "14px " + numFont, textAlign: 'right', textVerticalAlign: 'middle'}}
];
['疯','狂','的','缠','论'].forEach((ch, k) => {
  boxes.push({type: 'text', silent: true, z: 101, x: 62, y: 432 + k * 23,
    style: {text: ch, fill: '#111', font: '22px "Noto Sans CJK SC"', textAlign: 'center', textVerticalAlign: 'middle'}});
});
chart.setOption({graphic: {elements: boxes.concat(els)}});
</script>
</body>
</html>
